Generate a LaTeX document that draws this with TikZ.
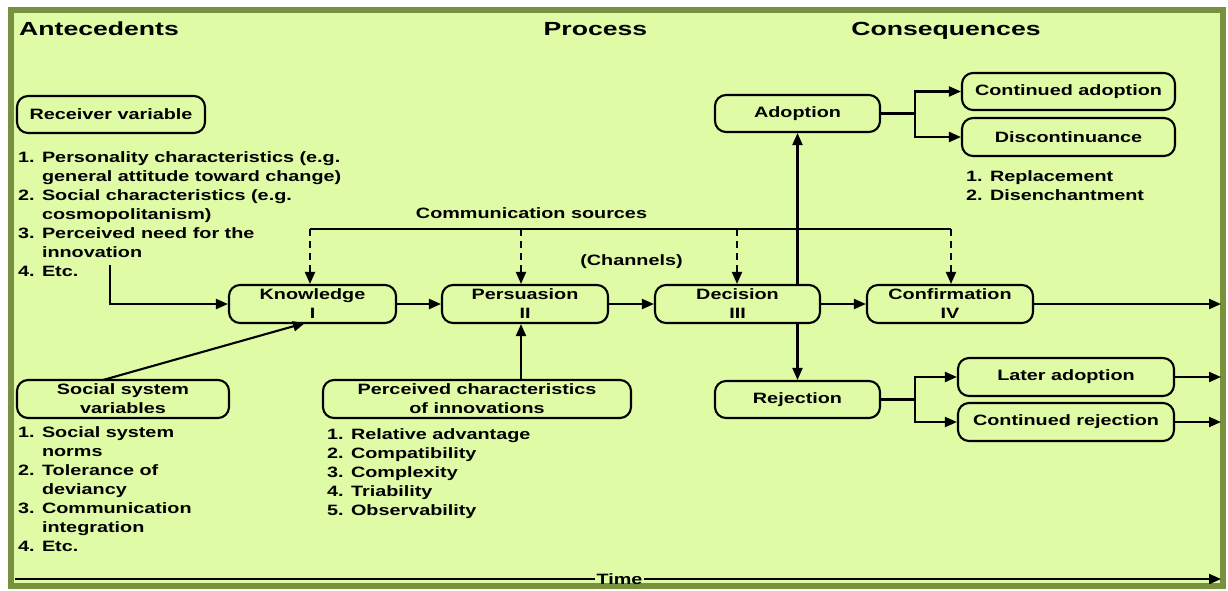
\documentclass[tikz,border=0pt]{standalone}
\usepackage{fontspec}
\setmainfont{Liberation Sans}[FakeStretch=1.32]
\newfontfamily\hdfont{Liberation Sans}[FakeStretch=1.4]
\usetikzlibrary{arrows.meta,calc}
\definecolor{bgfill}{RGB}{224,251,166}
\definecolor{frm}{RGB}{120,145,62}
\begin{document}
\begin{tikzpicture}[x=1pt,y=-1pt, font=\bfseries\fontsize{15}{19}\selectfont,
 box/.style={draw, line width=2.1pt, rounded corners=11pt, align=center, inner sep=0pt},
 arr/.style={line width=2.1pt, -{Triangle[length=12pt,width=10pt]}},
 ln/.style={line width=2.1pt},
 dsh/.style={line width=2.1pt, dash pattern=on 7pt off 5pt, -{Triangle[length=12pt,width=10pt]}},
 lst/.style={anchor=north west, align=left, inner sep=0pt},
 hd/.style={font=\hdfont\bfseries\fontsize{19}{23}\selectfont, inner sep=0pt}]
\useasboundingbox (0,0) rectangle (1228,590);
\fill[white] (0,0) rectangle (1228,590);
\draw[frm, line width=6pt, fill=bgfill] (11,10) rectangle (1223,586);

% headers
\node[hd, anchor=base west] (hant) at (19,35.5) {Antecedents};
\node[hd, anchor=base] (hpro) at (595.5,35.5) {Process};
\node[hd, anchor=base] (hcon) at (946,35.5) {Consequences};

% process boxes
\node[box, minimum width=167pt, minimum height=38pt] (know) at (312.5,304) {Knowledge\\I};
\node[box, minimum width=166pt, minimum height=38pt] (pers) at (525,304) {Persuasion\\II};
\node[box, minimum width=165pt, minimum height=38pt] (deci) at (737.5,304) {Decision\\III};
\node[box, minimum width=166pt, minimum height=38pt] (conf) at (950,304) {Confirmation\\IV};

% consequences
\node[box, minimum width=165pt, minimum height=37pt] (adop) at (797.5,113.5) {Adoption};
\node[box, minimum width=165pt, minimum height=37pt] (reje) at (797.5,399.5) {Rejection};
\node[box, minimum width=213pt, minimum height=37pt] (cado) at (1068.5,91.5) {Continued adoption};
\node[box, minimum width=213pt, minimum height=38pt] (disc) at (1068.5,137) {Discontinuance};
\node[box, minimum width=216pt, minimum height=38pt] (lado) at (1066,377) {Later adoption};
\node[box, minimum width=216pt, minimum height=38pt] (crej) at (1066,422) {Continued rejection};
\node[lst] (dlist) at (966,170) {1. Replacement\\2. Disenchantment};

% antecedents
\node[box, minimum width=188pt, minimum height=37pt] (recv) at (111,114.5) {Receiver variable};
\node[lst] (rlist) at (18,151) {1. Personality characteristics (e.g.\\\phantom{1. }general attitude toward change)\\2. Social characteristics (e.g.\\\phantom{2. }cosmopolitanism)\\3. Perceived need for the\\\phantom{3. }innovation\\4. Etc.};
\node[box, minimum width=212pt, minimum height=38pt] (soci) at (123,399) {Social system\\variables};
\node[lst] (slist) at (18,426) {1. Social system\\\phantom{1. }norms\\2. Tolerance of\\\phantom{2. }deviancy\\3. Communication\\\phantom{3. }integration\\4. Etc.};
\node[box, minimum width=308pt, minimum height=38pt] (perc) at (477,399) {Perceived characteristics\\of innovations};
\node[lst] (plist) at (327,428) {1. Relative advantage\\2. Compatibility\\3. Complexity\\4. Triability\\5. Observability};

% communication sources
\node[inner sep=0pt] (csrc) at (531.5,213) {Communication sources};
\node[inner sep=0pt] (chan) at (631.5,262) {(Channels)};
\coordinate (c1) at (310,229);
\coordinate (c2) at (521,229);
\coordinate (c3) at (737,229);
\coordinate (c4) at (951,229);
\draw[ln] (c1) -- (c4);
\draw[dsh] (c1) -- (c1 |- know.north);
\draw[dsh] (c2) -- (c2 |- pers.north);
\draw[dsh] (c3) -- (c3 |- deci.north);
\draw[dsh] (c4) -- (c4 |- conf.north);

% main chain
\draw[arr] (know) -- (pers);
\draw[arr] (pers) -- (deci);
\draw[arr] (deci) -- (conf);
\coordinate (confend) at (1221,304);
\draw[arr] (conf) -- (confend);

% receiver arrow
\coordinate (r0) at (110,265);
\draw[arr] (r0) |- (know.west);
% social arrow
\coordinate (s0) at (103,380);
\coordinate (k0) at (305,323);
\draw[arr] (s0) -- (k0);
% perceived arrow
\coordinate (p0) at (521,380);
\draw[arr] (p0) -- (p0 |- pers.south);

% decision branches
\draw[arr] (adop.south |- deci.north) -- (adop.south);
\draw[arr] (reje.north |- deci.south) -- (reje.north);

\coordinate (sa) at (915,113.5);
\draw[ln] (adop.east) -- (sa);
\draw[arr] (sa) |- (cado.west);
\draw[arr] (sa) |- (disc.west);
\coordinate (sr) at (915,399.5);
\draw[ln] (reje.east) -- (sr);
\draw[arr] (sr) |- (lado.west);
\draw[arr] (sr) |- (crej.west);
\coordinate (le) at (1221,377);
\coordinate (ce) at (1221,422);
\draw[arr] (lado.east) -- (le);
\draw[arr] (crej.east) -- (ce);

% time
\node[inner sep=1pt] (time) at (619.5,579) {Time};
\coordinate (t0) at (15,579);
\coordinate (t1) at (1221,579);
\draw[ln] (t0) -- (time.west);
\draw[arr] (time.east) -- (t1);
\end{tikzpicture}
\end{document}
